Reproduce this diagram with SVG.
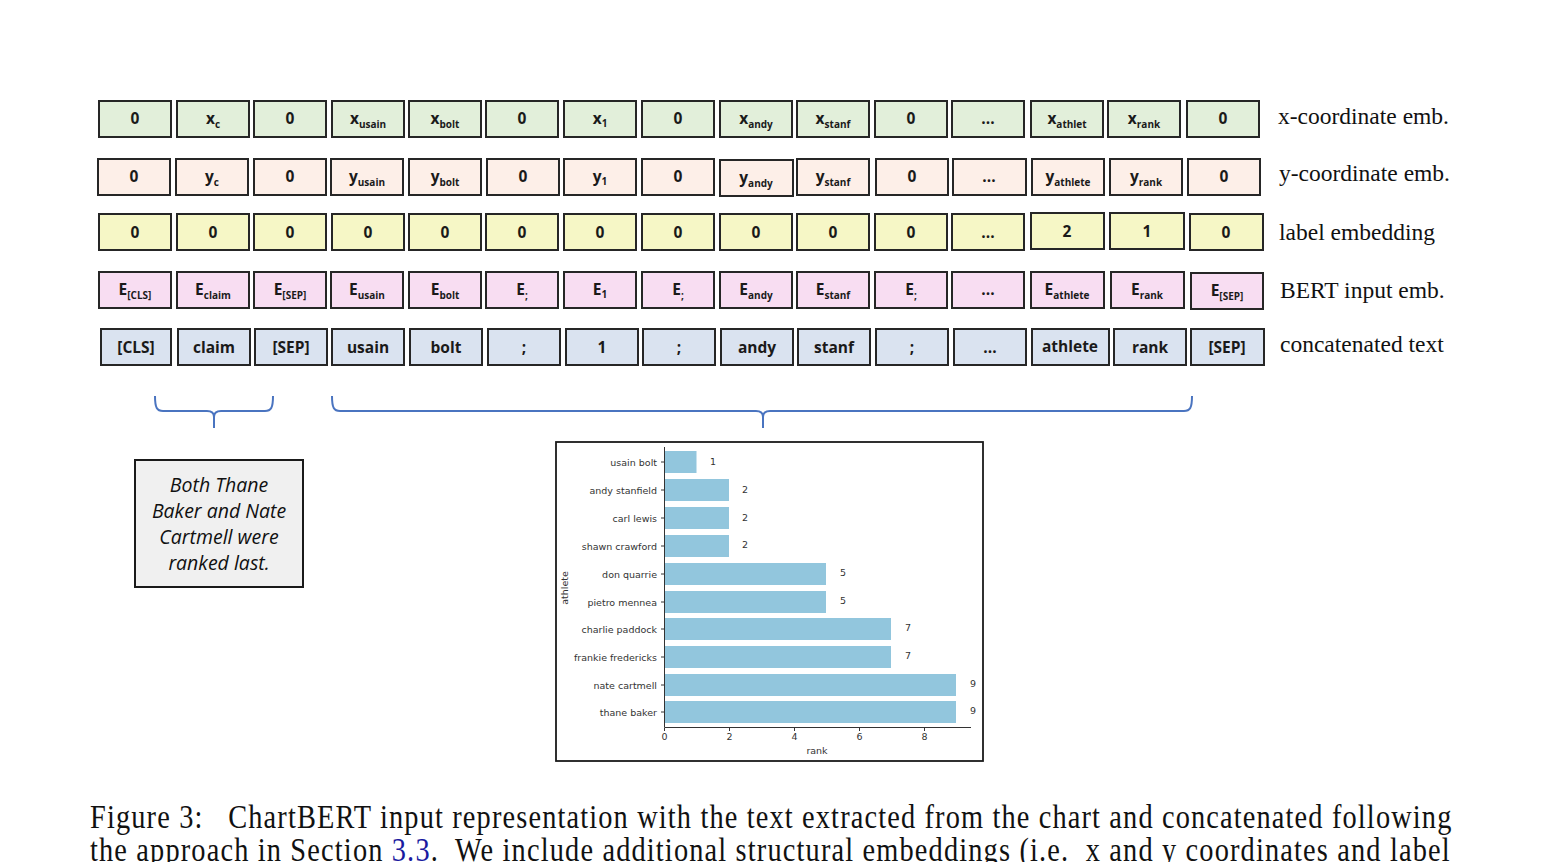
<svg xmlns="http://www.w3.org/2000/svg" width="1546" height="862" viewBox="0 0 1546 862">
<style>
.bx{stroke:#262626;stroke-width:2}
.g{fill:#e2efda}.p{fill:#fdefe8}.y{fill:#f6f7c6}.m{fill:#f8ddf2}.b{fill:#dae3f0}
.t{font-family:"Open Sans","Noto Sans",sans-serif;font-weight:bold;font-size:15.5px;fill:#1a1a1a;text-anchor:middle}
.s{font-size:10px}
.lab{font-family:"Liberation Serif",serif;font-size:23.5px;fill:#111}
.br{fill:none;stroke:#4a74c0;stroke-width:2}
.ct{font-family:"DejaVu Sans",sans-serif;font-size:9.5px;fill:#333}
.bar{fill:#92c6dd}
.cap{font-family:"Liberation Serif",serif;font-size:33px;fill:#111;white-space:pre}
</style>
<rect width="1546" height="862" fill="#fff"/>
<g id="row-x">
<g id="x1"><rect class="bx g" x="99" y="101" width="72" height="36"/><text class="t" x="135" y="124">0</text></g>
<g id="x2"><rect class="bx g" x="177" y="101" width="72" height="36"/><text class="t" x="213" y="124">x<tspan class="s" dy="4">c</tspan></text></g>
<g id="x3"><rect class="bx g" x="254" y="101" width="72" height="36"/><text class="t" x="290" y="124">0</text></g>
<g id="x4"><rect class="bx g" x="332" y="101" width="72" height="36"/><text class="t" x="368" y="124">x<tspan class="s" dy="4">usain</tspan></text></g>
<g id="x5"><rect class="bx g" x="409" y="101" width="72" height="36"/><text class="t" x="445" y="124">x<tspan class="s" dy="4">bolt</tspan></text></g>
<g id="x6"><rect class="bx g" x="486" y="101" width="72" height="36"/><text class="t" x="522" y="124">0</text></g>
<g id="x7"><rect class="bx g" x="564" y="101" width="72" height="36"/><text class="t" x="600" y="124">x<tspan class="s" dy="3" font-size="12">1</tspan></text></g>
<g id="x8"><rect class="bx g" x="642" y="101" width="72" height="36"/><text class="t" x="678" y="124">0</text></g>
<g id="x9"><rect class="bx g" x="720" y="101" width="72" height="36"/><text class="t" x="756" y="124">x<tspan class="s" dy="4">andy</tspan></text></g>
<g id="x10"><rect class="bx g" x="797" y="101" width="72" height="36"/><text class="t" x="833" y="124">x<tspan class="s" dy="4">stanf</tspan></text></g>
<g id="x11"><rect class="bx g" x="875" y="101" width="72" height="36"/><text class="t" x="911" y="124">0</text></g>
<g id="x12"><rect class="bx g" x="952" y="101" width="72" height="36"/><text class="t" x="988" y="124">...</text></g>
<g id="x13"><rect class="bx g" x="1031" y="101" width="72" height="36"/><text class="t" x="1067" y="124">x<tspan class="s" dy="4">athlet</tspan></text></g>
<g id="x14"><rect class="bx g" x="1108" y="101" width="72" height="36"/><text class="t" x="1144" y="124">x<tspan class="s" dy="4">rank</tspan></text></g>
<g id="x15"><rect class="bx g" x="1187" y="101" width="72" height="36"/><text class="t" x="1223" y="124">0</text></g>
</g>
<g id="row-y">
<g id="y1"><rect class="bx p" x="98" y="159" width="72" height="36"/><text class="t" x="134" y="182">0</text></g>
<g id="y2"><rect class="bx p" x="176" y="159" width="72" height="36"/><text class="t" x="212" y="182">y<tspan class="s" dy="4">c</tspan></text></g>
<g id="y3"><rect class="bx p" x="254" y="159" width="72" height="36"/><text class="t" x="290" y="182">0</text></g>
<g id="y4"><rect class="bx p" x="331" y="159" width="72" height="36"/><text class="t" x="367" y="182">y<tspan class="s" dy="4">usain</tspan></text></g>
<g id="y5"><rect class="bx p" x="409" y="159" width="72" height="36"/><text class="t" x="445" y="182">y<tspan class="s" dy="4">bolt</tspan></text></g>
<g id="y6"><rect class="bx p" x="487" y="159" width="72" height="36"/><text class="t" x="523" y="182">0</text></g>
<g id="y7"><rect class="bx p" x="564" y="159" width="72" height="36"/><text class="t" x="600" y="182">y<tspan class="s" dy="3" font-size="12">1</tspan></text></g>
<g id="y8"><rect class="bx p" x="642" y="159" width="72" height="36"/><text class="t" x="678" y="182">0</text></g>
<g id="y9"><rect class="bx p" x="720" y="160" width="73" height="36"/><text class="t" x="756" y="183">y<tspan class="s" dy="4">andy</tspan></text></g>
<g id="y10"><rect class="bx p" x="797" y="159" width="72" height="36"/><text class="t" x="833" y="182">y<tspan class="s" dy="4">stanf</tspan></text></g>
<g id="y11"><rect class="bx p" x="876" y="159" width="72" height="36"/><text class="t" x="912" y="182">0</text></g>
<g id="y12"><rect class="bx p" x="953" y="159" width="73" height="36"/><text class="t" x="989" y="182">...</text></g>
<g id="y13"><rect class="bx p" x="1032" y="159" width="72" height="36"/><text class="t" x="1068" y="182">y<tspan class="s" dy="4" font-size="9">athlete</tspan></text></g>
<g id="y14"><rect class="bx p" x="1110" y="159" width="72" height="36"/><text class="t" x="1146" y="182">y<tspan class="s" dy="4">rank</tspan></text></g>
<g id="y15"><rect class="bx p" x="1188" y="159" width="72" height="36"/><text class="t" x="1224" y="182">0</text></g>
</g>
<g id="row-label">
<g id="l1"><rect class="bx y" x="99" y="214" width="72" height="36"/><text class="t" x="135" y="238">0</text></g>
<g id="l2"><rect class="bx y" x="177" y="214" width="72" height="36"/><text class="t" x="213" y="238">0</text></g>
<g id="l3"><rect class="bx y" x="254" y="214" width="72" height="36"/><text class="t" x="290" y="238">0</text></g>
<g id="l4"><rect class="bx y" x="332" y="214" width="72" height="36"/><text class="t" x="368" y="238">0</text></g>
<g id="l5"><rect class="bx y" x="409" y="214" width="72" height="36"/><text class="t" x="445" y="238">0</text></g>
<g id="l6"><rect class="bx y" x="486" y="214" width="72" height="36"/><text class="t" x="522" y="238">0</text></g>
<g id="l7"><rect class="bx y" x="564" y="214" width="72" height="36"/><text class="t" x="600" y="238">0</text></g>
<g id="l8"><rect class="bx y" x="642" y="214" width="72" height="36"/><text class="t" x="678" y="238">0</text></g>
<g id="l9"><rect class="bx y" x="720" y="214" width="72" height="36"/><text class="t" x="756" y="238">0</text></g>
<g id="l10"><rect class="bx y" x="797" y="214" width="72" height="36"/><text class="t" x="833" y="238">0</text></g>
<g id="l11"><rect class="bx y" x="875" y="214" width="72" height="36"/><text class="t" x="911" y="238">0</text></g>
<g id="l12"><rect class="bx y" x="952" y="214" width="72" height="36"/><text class="t" x="988" y="238">...</text></g>
<g id="l13"><rect class="bx y" x="1031" y="213" width="73" height="36"/><text class="t" x="1067" y="237">2</text></g>
<g id="l14"><rect class="bx y" x="1110" y="213" width="74" height="36"/><text class="t" x="1147" y="237">1</text></g>
<g id="l15"><rect class="bx y" x="1190" y="214" width="73" height="36"/><text class="t" x="1226" y="238">0</text></g>
</g>
<g id="row-bert">
<g id="e1"><rect class="bx m" x="99" y="272" width="72" height="36"/><text class="t" x="135" y="295">E<tspan class="s" dy="4">[CLS]</tspan></text></g>
<g id="e2"><rect class="bx m" x="177" y="272" width="72" height="36"/><text class="t" x="213" y="295">E<tspan class="s" dy="4">claim</tspan></text></g>
<g id="e3"><rect class="bx m" x="254" y="272" width="72" height="36"/><text class="t" x="290" y="295">E<tspan class="s" dy="4">[SEP]</tspan></text></g>
<g id="e4"><rect class="bx m" x="331" y="272" width="72" height="36"/><text class="t" x="367" y="295">E<tspan class="s" dy="4">usain</tspan></text></g>
<g id="e5"><rect class="bx m" x="409" y="272" width="72" height="36"/><text class="t" x="445" y="295">E<tspan class="s" dy="4">bolt</tspan></text></g>
<g id="e6"><rect class="bx m" x="486" y="272" width="72" height="36"/><text class="t" x="522" y="295">E<tspan class="s" dy="4">;</tspan></text></g>
<g id="e7"><rect class="bx m" x="564" y="272" width="72" height="36"/><text class="t" x="600" y="295">E<tspan class="s" dy="3" font-size="12">1</tspan></text></g>
<g id="e8"><rect class="bx m" x="642" y="272" width="72" height="36"/><text class="t" x="678" y="295">E<tspan class="s" dy="4">;</tspan></text></g>
<g id="e9"><rect class="bx m" x="720" y="272" width="72" height="36"/><text class="t" x="756" y="295">E<tspan class="s" dy="4">andy</tspan></text></g>
<g id="e10"><rect class="bx m" x="797" y="272" width="72" height="36"/><text class="t" x="833" y="295">E<tspan class="s" dy="4">stanf</tspan></text></g>
<g id="e11"><rect class="bx m" x="875" y="272" width="72" height="36"/><text class="t" x="911" y="295">E<tspan class="s" dy="4">;</tspan></text></g>
<g id="e12"><rect class="bx m" x="952" y="272" width="72" height="36"/><text class="t" x="988" y="295">...</text></g>
<g id="e13"><rect class="bx m" x="1031" y="272" width="73" height="36"/><text class="t" x="1067" y="295">E<tspan class="s" dy="4" font-size="9">athlete</tspan></text></g>
<g id="e14"><rect class="bx m" x="1111" y="272" width="73" height="36"/><text class="t" x="1147" y="295">E<tspan class="s" dy="4">rank</tspan></text></g>
<g id="e15"><rect class="bx m" x="1191" y="273" width="72" height="36"/><text class="t" x="1227" y="296">E<tspan class="s" dy="4">[SEP]</tspan></text></g>
</g>
<g id="row-text">
<g id="c1"><rect class="bx b" x="101" y="329" width="70" height="36"/><text class="t" x="136" y="353">[CLS]</text></g>
<g id="c2"><rect class="bx b" x="178" y="329" width="72" height="36"/><text class="t" x="214" y="353">claim</text></g>
<g id="c3"><rect class="bx b" x="255" y="329" width="72" height="36"/><text class="t" x="291" y="353">[SEP]</text></g>
<g id="c4"><rect class="bx b" x="332" y="329" width="72" height="36"/><text class="t" x="368" y="353">usain</text></g>
<g id="c5"><rect class="bx b" x="410" y="329" width="72" height="36"/><text class="t" x="446" y="353">bolt</text></g>
<g id="c6"><rect class="bx b" x="488" y="329" width="72" height="36"/><text class="t" x="524" y="353">;</text></g>
<g id="c7"><rect class="bx b" x="566" y="329" width="72" height="36"/><text class="t" x="602" y="353">1</text></g>
<g id="c8"><rect class="bx b" x="643" y="329" width="72" height="36"/><text class="t" x="679" y="353">;</text></g>
<g id="c9"><rect class="bx b" x="721" y="329" width="72" height="36"/><text class="t" x="757" y="353">andy</text></g>
<g id="c10"><rect class="bx b" x="798" y="329" width="72" height="36"/><text class="t" x="834" y="353">stanf</text></g>
<g id="c11"><rect class="bx b" x="876" y="329" width="72" height="36"/><text class="t" x="912" y="353">;</text></g>
<g id="c12"><rect class="bx b" x="954" y="329" width="72" height="36"/><text class="t" x="990" y="353">...</text></g>
<g id="c13"><rect class="bx b" x="1032" y="329" width="77" height="36"/><text class="t" x="1070" y="352" font-size="13">athlete</text></g>
<g id="c14"><rect class="bx b" x="1114" y="329" width="72" height="36"/><text class="t" x="1150" y="353">rank</text></g>
<g id="c15"><rect class="bx b" x="1191" y="329" width="73" height="36"/><text class="t" x="1227" y="353">[SEP]</text></g>
</g>
<g id="row-labels">
<text class="lab" x="1278" y="124">x-coordinate emb.</text>
<text class="lab" x="1279" y="181">y-coordinate emb.</text>
<text class="lab" x="1279" y="240">label embedding</text>
<text class="lab" x="1280" y="298">BERT input emb.</text>
<text class="lab" x="1280" y="352">concatenated text</text>
</g>
<g id="connectors">
<path class="br" d="M155,396 C155,408 157,411 163,411 L207,411 C212,411 214,413 214,417 L214,428 M214,417 C214,413 216,411 221,411 L265,411 C271,411 273,408 273,396"/>
<path class="br" d="M332,396 C332,408 334,411 340,411 L756,411 C761,411 763,413 763,417 L763,428 M763,417 C763,413 765,411 770,411 L1184,411 C1190,411 1192,408 1192,396"/>
</g>
<g id="claim">
<rect x="135" y="460" width="168" height="127" fill="#f0f0f0" stroke="#1a1a1a" stroke-width="2"/>
<g font-family="'Open Sans','Noto Sans',sans-serif" font-style="italic" font-size="19.5" fill="#111" text-anchor="middle">
<text x="219" y="492">Both Thane</text>
<text x="219" y="518">Baker and Nate</text>
<text x="219" y="544">Cartmell were</text>
<text x="219" y="570">ranked last.</text>
</g>
</g>
<g id="chart">
<rect x="556" y="442" width="427" height="319" fill="#fff" stroke="#1a1a1a" stroke-width="1.8"/>
<rect class="bar" x="665" y="451" width="31.5" height="22"/>
<rect class="bar" x="665" y="479" width="64" height="22"/>
<rect class="bar" x="665" y="507" width="64" height="22"/>
<rect class="bar" x="665" y="535" width="64" height="22"/>
<rect class="bar" x="665" y="563" width="161" height="22"/>
<rect class="bar" x="665" y="591" width="161" height="22"/>
<rect class="bar" x="665" y="618" width="226" height="22"/>
<rect class="bar" x="665" y="646" width="226" height="22"/>
<rect class="bar" x="665" y="674" width="291" height="22"/>
<rect class="bar" x="665" y="701" width="291" height="22"/>
<path d="M664.5,447 V727.5 H971" fill="none" stroke="#333" stroke-width="1"/>
<path d="M661,462 H664 M661,490 H664 M661,518 H664 M661,546 H664 M661,574 H664 M661,602 H664 M661,629 H664 M661,657 H664 M661,685 H664 M661,712 H664 M664.5,728 V731 M729.5,728 V731 M794.5,728 V731 M859.5,728 V731 M924.5,728 V731" stroke="#333" stroke-width="1"/>
<g class="ct" text-anchor="end">
<text x="657" y="466">usain bolt</text>
<text x="657" y="494">andy stanfield</text>
<text x="657" y="522">carl lewis</text>
<text x="657" y="550">shawn crawford</text>
<text x="657" y="578">don quarrie</text>
<text x="657" y="606">pietro mennea</text>
<text x="657" y="633">charlie paddock</text>
<text x="657" y="661">frankie fredericks</text>
<text x="657" y="689">nate cartmell</text>
<text x="657" y="716">thane baker</text>
</g>
<g class="ct" text-anchor="middle">
<text x="713" y="465">1</text>
<text x="745" y="493">2</text>
<text x="745" y="521">2</text>
<text x="745" y="548">2</text>
<text x="843" y="576">5</text>
<text x="843" y="604">5</text>
<text x="908" y="631">7</text>
<text x="908" y="659">7</text>
<text x="973" y="687">9</text>
<text x="973" y="714">9</text>
<text x="664.5" y="740">0</text>
<text x="729.5" y="740">2</text>
<text x="794.5" y="740">4</text>
<text x="859.5" y="740">6</text>
<text x="924.5" y="740">8</text>
<text x="817" y="754">rank</text>
<text transform="translate(568,588) rotate(-90)">athlete</text>
</g>
</g>
<g id="caption">
<text class="cap" transform="translate(90,828) scale(0.86,1)" x="0" y="0" textLength="1583" lengthAdjust="spacing">Figure 3:   ChartBERT input representation with the text extracted from the chart and concatenated following</text>
<text class="cap" transform="translate(90,861) scale(0.86,1)" x="0" y="0" textLength="1581" lengthAdjust="spacing">the approach in Section <tspan fill="#1a1aa0">3.3</tspan>.  We include additional structural embeddings (i.e.  x and y coordinates and label</text>
</g>
</svg>
